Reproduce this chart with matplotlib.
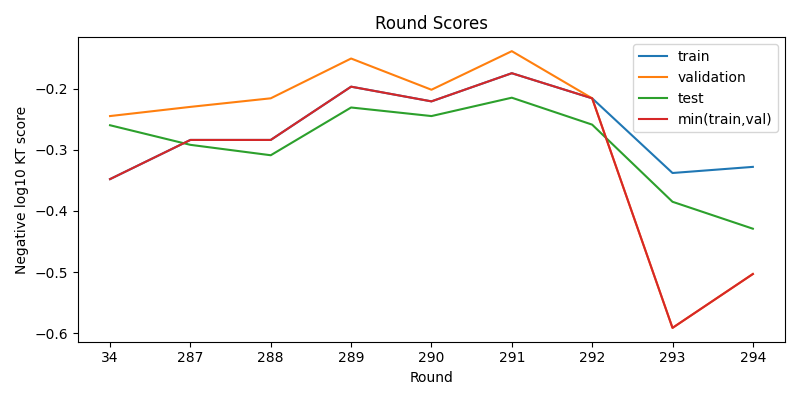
import matplotlib
matplotlib.use("Agg")
import matplotlib.pyplot as plt

# Rounds (categorical x axis)
rounds = ["34", "287", "288", "289", "290", "291", "292", "293", "294"]
# Negative log10 KT scores
train = [-0.348, -0.284, -0.284, -0.197, -0.221, -0.175, -0.216, -0.338, -0.328]
validation = [-0.245, -0.230, -0.216, -0.151, -0.202, -0.139, -0.216, -0.591, -0.503]
test = [-0.260, -0.292, -0.309, -0.231, -0.245, -0.215, -0.259, -0.385, -0.429]
min_train_val = [min(a, b) for a, b in zip(train, validation)]

fig, ax = plt.subplots(figsize=(8, 4), dpi=100)
ax.plot(rounds, train, label="train")
ax.plot(rounds, validation, label="validation")
ax.plot(rounds, test, label="test")
ax.plot(rounds, min_train_val, label="min(train,val)")
ax.set_xlabel("Round")
ax.set_ylabel("Negative log10 KT score")
ax.set_title("Round Scores")
ax.legend()
fig.tight_layout()
fig.savefig("out.png")
